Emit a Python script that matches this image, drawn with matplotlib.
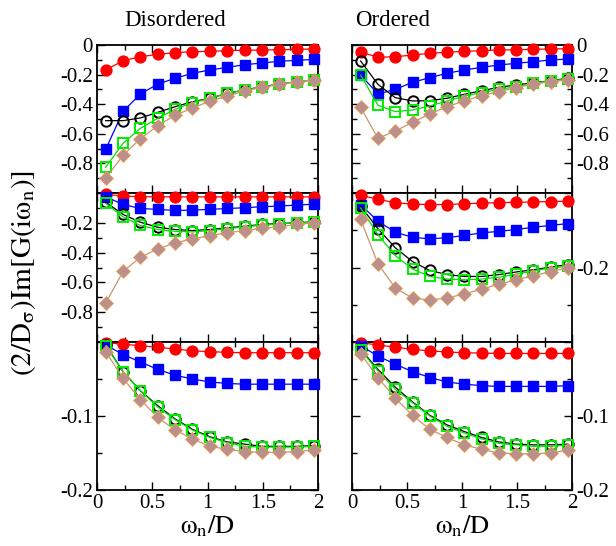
import matplotlib
matplotlib.use("Agg")
import matplotlib.pyplot as plt
from matplotlib.ticker import FixedLocator, MultipleLocator

plt.rcParams['font.family'] = ['Liberation Serif', 'DejaVu Serif']
plt.rcParams['mathtext.fontset'] = 'stix'
plt.rcParams['axes.unicode_minus'] = False

# Matsubara frequencies omega_n / D
omega = [0.0785, 0.236, 0.393, 0.550, 0.707, 0.864, 1.021, 1.178, 1.335, 1.492, 1.649, 1.806, 1.963]

# Row 1 (Disordered / Ordered)
r1_dis_red = [-0.169, -0.106, -0.079, -0.063, -0.052, -0.045, -0.043, -0.038, -0.036, -0.034, -0.032, -0.029, -0.027]
r1_dis_blue = [-0.705, -0.448, -0.331, -0.264, -0.225, -0.191, -0.169, -0.151, -0.133, -0.122, -0.110, -0.104, -0.097]
r1_dis_black = [-0.511, -0.511, -0.493, -0.455, -0.417, -0.383, -0.360, -0.327, -0.304, -0.282, -0.264, -0.248, -0.236]
r1_dis_green = [-0.826, -0.664, -0.563, -0.495, -0.434, -0.390, -0.360, -0.327, -0.304, -0.286, -0.264, -0.248, -0.236]
r1_dis_tan = [-0.901, -0.745, -0.633, -0.545, -0.475, -0.426, -0.380, -0.345, -0.311, -0.286, -0.266, -0.248, -0.236]

r1_ord_red = [-0.047, -0.083, -0.079, -0.068, -0.056, -0.049, -0.043, -0.038, -0.034, -0.032, -0.029, -0.027, -0.025]
r1_ord_blue = [-0.203, -0.331, -0.300, -0.252, -0.221, -0.191, -0.169, -0.151, -0.135, -0.124, -0.113, -0.101, -0.095]
r1_ord_black = [-0.108, -0.266, -0.356, -0.378, -0.376, -0.360, -0.333, -0.309, -0.286, -0.270, -0.255, -0.241, -0.225]
r1_ord_green = [-0.203, -0.407, -0.450, -0.439, -0.412, -0.378, -0.345, -0.322, -0.300, -0.282, -0.259, -0.241, -0.230]
r1_ord_tan = [-0.421, -0.631, -0.581, -0.523, -0.466, -0.417, -0.378, -0.342, -0.315, -0.288, -0.264, -0.248, -0.236]

# Row 2
r2_dis_red = [-0.010, -0.020, -0.025, -0.025, -0.026, -0.026, -0.026, -0.026, -0.026, -0.026, -0.026, -0.026, -0.026]
r2_dis_blue = [-0.025, -0.077, -0.104, -0.110, -0.117, -0.115, -0.110, -0.104, -0.099, -0.092, -0.088, -0.081, -0.075]
r2_dis_black = [-0.061, -0.144, -0.196, -0.230, -0.245, -0.252, -0.245, -0.234, -0.223, -0.211, -0.205, -0.200, -0.193]
r2_dis_green = [-0.070, -0.160, -0.218, -0.245, -0.257, -0.261, -0.252, -0.240, -0.227, -0.216, -0.207, -0.200, -0.196]
r2_dis_tan = [-0.739, -0.526, -0.432, -0.375, -0.335, -0.308, -0.286, -0.267, -0.252, -0.238, -0.227, -0.211, -0.200]

r2_ord_red = [-0.006, -0.017, -0.026, -0.030, -0.031, -0.031, -0.029, -0.027, -0.026, -0.025, -0.024, -0.023, -0.022]
r2_ord_blue = [-0.031, -0.076, -0.105, -0.119, -0.123, -0.120, -0.114, -0.107, -0.103, -0.098, -0.092, -0.087, -0.082]
r2_ord_black = [-0.035, -0.096, -0.147, -0.184, -0.208, -0.219, -0.224, -0.224, -0.219, -0.212, -0.206, -0.199, -0.192]
r2_ord_green = [-0.040, -0.112, -0.168, -0.204, -0.224, -0.231, -0.233, -0.231, -0.226, -0.218, -0.209, -0.201, -0.197]
r2_ord_tan = [-0.071, -0.190, -0.255, -0.282, -0.287, -0.282, -0.271, -0.258, -0.245, -0.233, -0.222, -0.211, -0.201]

# Row 3
r3_dis_red = [-0.001, -0.003, -0.005, -0.007, -0.0095, -0.012, -0.013, -0.014, -0.0145, -0.0145, -0.0145, -0.0145, -0.0145]
r3_dis_blue = [-0.004, -0.017, -0.027, -0.037, -0.045, -0.050, -0.054, -0.056, -0.057, -0.057, -0.057, -0.057, -0.057]
r3_dis_black = [-0.004, -0.040, -0.066, -0.086, -0.104, -0.118, -0.128, -0.135, -0.138, -0.141, -0.141, -0.141, -0.140]
r3_dis_green = [-0.005, -0.040, -0.066, -0.088, -0.105, -0.119, -0.129, -0.136, -0.141, -0.142, -0.142, -0.142, -0.141]
r3_dis_tan = [-0.013, -0.049, -0.078, -0.102, -0.119, -0.131, -0.141, -0.145, -0.148, -0.149, -0.149, -0.148, -0.146]

r3_ord_red = [-0.001, -0.004, -0.007, -0.010, -0.012, -0.0135, -0.0145, -0.015, -0.0155, -0.0155, -0.0155, -0.0155, -0.0155]
r3_ord_blue = [-0.005, -0.019, -0.030, -0.040, -0.048, -0.054, -0.057, -0.059, -0.060, -0.060, -0.060, -0.060, -0.059]
r3_ord_black = [-0.010, -0.037, -0.061, -0.081, -0.099, -0.112, -0.121, -0.129, -0.135, -0.138, -0.139, -0.139, -0.138]
r3_ord_green = [-0.011, -0.039, -0.064, -0.082, -0.100, -0.114, -0.123, -0.131, -0.137, -0.139, -0.141, -0.141, -0.139]
r3_ord_tan = [-0.016, -0.048, -0.076, -0.099, -0.118, -0.129, -0.139, -0.145, -0.150, -0.151, -0.151, -0.150, -0.146]

column_titles = ["Disordered", "Ordered"]
x_ticks = [0, 0.5, 1, 1.5, 2]
x_tick_labels = ["0", "0.5", "1", "1.5", "2"]

panels = [
    [(r1_dis_red, r1_dis_blue, r1_dis_black, r1_dis_green, r1_dis_tan),
     (r1_ord_red, r1_ord_blue, r1_ord_black, r1_ord_green, r1_ord_tan)],
    [(r2_dis_red, r2_dis_blue, r2_dis_black, r2_dis_green, r2_dis_tan),
     (r2_ord_red, r2_ord_blue, r2_ord_black, r2_ord_green, r2_ord_tan)],
    [(r3_dis_red, r3_dis_blue, r3_dis_black, r3_dis_green, r3_dis_tan),
     (r3_ord_red, r3_ord_blue, r3_ord_black, r3_ord_green, r3_ord_tan)],
]

# y-axis settings per panel: (ylim, major ticks, labelled ticks, minor step)
yset = [
    [((-1, 0), [0, -0.2, -0.4, -0.6, -0.8, -1.0], ["0", "-0.2", "-0.4", "-0.6", "-0.8", ""], 0.1),
     ((-1, 0), [0, -0.2, -0.4, -0.6, -0.8, -1.0], ["0", "-0.2", "-0.4", "-0.6", "-0.8", ""], 0.1)],
    [((-1, 0), [0, -0.2, -0.4, -0.6, -0.8, -1.0], ["", "-0.2", "-0.4", "-0.6", "-0.8", ""], 0.1),
     ((-0.4, 0), [0, -0.2, -0.4], ["", "-0.2", ""], 0.1)],
    [((-0.2, 0), [0, -0.1, -0.2], ["", "-0.1", "-0.2"], 0.05),
     ((-0.2, 0), [0, -0.1, -0.2], ["", "-0.1", "-0.2"], 0.05)],
]

fig = plt.figure(figsize=(6.16, 5.46), dpi=100)
W, H = 616.0, 546.0
col_x = [(97, 318), (352, 572)]
row_y = [(45, 193), (193, 342), (342, 490)]

styles = [
    dict(color='red', marker='o', ms=7.8, mfc='red', mec='red', lw=0.9),
    dict(color='blue', marker='s', ms=6.8, mfc='blue', mec='blue', lw=0.9),
    dict(color='black', marker='o', ms=7.5, mfc='none', mec='black', mew=1.4, lw=0.9),
    dict(color='#00e000', marker='s', ms=6.5, mfc='none', mec='#00ee00', mew=1.4, lw=0.9),
    dict(color='#c8966e', marker='D', ms=7.2, mfc='#bc8f8f', mec='#f0a040', mew=0.5, lw=0.9),
]
draw_order = [0, 1, 2, 3, 4]

for r in range(3):
    for c in range(2):
        x0, x1 = col_x[c]
        y0, y1 = row_y[r]
        ax = fig.add_axes([x0 / W, 1 - y1 / H, (x1 - x0) / W, (y1 - y0) / H])
        series = panels[r][c]
        for k in draw_order:
            ax.plot(omega, series[k], zorder=3 + k, clip_on=False, **styles[k])
        ylim, yt, ytl, ymin = yset[r][c]
        ax.set_xlim(0, 2)
        ax.set_ylim(*ylim)
        ax.xaxis.set_major_locator(FixedLocator(x_ticks))
        ax.xaxis.set_minor_locator(MultipleLocator(0.25))
        ax.yaxis.set_major_locator(FixedLocator(yt))
        ax.yaxis.set_minor_locator(MultipleLocator(ymin))
        ax.set_yticklabels(ytl)
        if r == 2:
            ax.set_xticklabels(x_tick_labels)
        else:
            ax.set_xticklabels([])
        ax.tick_params(which='both', direction='in', top=True, bottom=True, left=True, right=True,
                       labelsize=15, width=1.0, pad=3)
        ax.tick_params(which='major', length=6)
        ax.tick_params(which='minor', length=3.5)
        if c == 1:
            ax.tick_params(axis='y', labelleft=False, labelright=True)
        for sp in ax.spines.values():
            sp.set_linewidth(1.3)
        if r == 2:
            ax.set_xlabel(r'$\mathrm{\omega_n/D}$', fontsize=19, labelpad=0)

fig.text(175 / W, 1 - 20 / H, column_titles[0], fontsize=16.5, ha='center', va='center')
fig.text(393 / W, 1 - 20 / H, column_titles[1], fontsize=16.5, ha='center', va='center')
fig.text(24 / W, 1 - 273 / H, r'$\mathrm{(2/D_{\sigma})Im[G(i\omega_n)]}$', fontsize=21,
         rotation=90, ha='center', va='center')

fig.savefig('out.png', dpi=100)
